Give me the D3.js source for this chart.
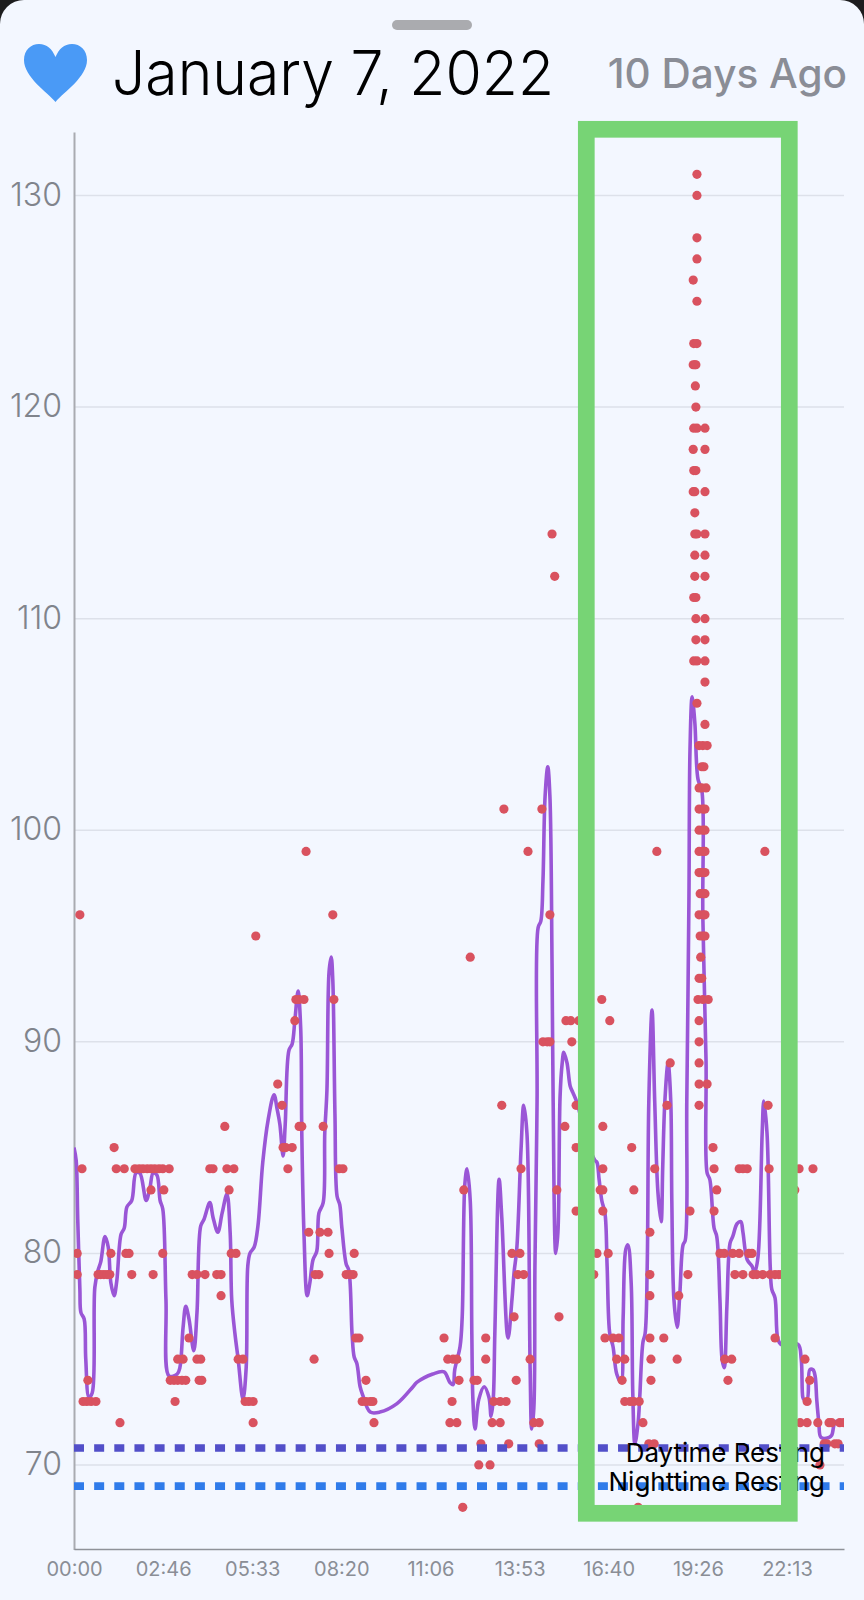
<!DOCTYPE html>
<html><head><meta charset="utf-8">
<script src="https://cdn.jsdelivr.net/npm/d3@7"></script>
<style>
html,body{margin:0;padding:0;background:#1c1c1e;}
svg{display:block;}
text{font-family:Inter,"Noto Sans",sans-serif;}
</style></head><body><div id="chart"></div>
<script>
const titleText = "January 7, 2022";
const agoText = "10 Days Ago";
const yTicks = [70,80,90,100,110,120,130];
const xTickMinutes = d3.range(0,9).map(i => i*10000/60);
const xTickLabels = ["00:00","02:46","05:33","08:20","11:06","13:53","16:40","19:26","22:13"];
const daytimeResting = 70.8;
const nighttimeResting = 69.0;
const restingLabels = ["Daytime Resting","Nighttime Resting"];

const sampleBpm = [131,130,128,127,126,125,123,122,121,120,119,118,117,116,115,114,113,112,111,110,109,108,107,106,105,104,103,102,101,100,99,98,97,96,95,94,93,92,91,90,89,88,87,86,85,84,83,82,81,80,79,78,77,76,75,74,73,72,71,70,68];
const sampleMinutes = [
[1165],[1165],[1165],[1165],[1158],[1165],[1159,1165],[1158,1161,1163],[1162],[1163],
[1159,1165,1180],[1158,1180],[1159,1163],[1158,1161,1180],[1161],[894,1161,1165,1180],[1161,1180],[899,1161,1180],[1159,1163],[1163,1180],
[1163,1180],[1159,1165,1180],[1180],[1165],[1180],[1169,1176,1184],[1174,1178],[1169,1174,1182],[804,875,1169,1176,1180],[1169,1176,1180],
[434,849,1090,1169,1176,1180,1292],[1169,1174,1180],[1171,1176,1180],[11,484,890,1169,1176,1180],[340,1171,1176,1180],[741,1172],[1169,1174],
[415,421,430,486,987,1167,1176,1186],[413,920,929,944,1002,1169],[877,885,890,931,1169],[1115,1169],[381,1169,1184],
[389,800,939,1109,1169,1298],[282,421,426,466,918,989],[75,391,396,408,939,1043,1195],
[15,79,94,114,122,129,137,144,151,159,166,178,254,260,286,299,400,496,503,836,989,1086,1197,1244,1251,1259,1300,1356,1382],
[144,168,290,729,903,984,989,1047,1202,1348],[939,989,1152,1197],[439,460,475,1077],
[6,69,97,103,166,294,303,477,524,819,834,978,999,1208,1216,1232,1244,1262,1268],
[6,45,50,56,62,67,108,148,221,230,245,267,275,451,458,509,516,522,830,841,972,1077,1148,1236,1251,1270,1277,1288,1302,1311,1318,1324],
[275,1077,1131],[823,907],[215,527,533,692,770,993,1008,1019,1077,1103,1311],
[194,204,230,237,307,316,449,699,709,716,770,853,1015,1030,1079,1128,1217,1230,1367],
[26,180,187,194,202,209,234,239,546,720,748,754,827,1025,1079,1223,1376],
[17,24,32,41,189,320,327,335,539,546,554,559,707,785,797,808,1030,1040,1047,1057,1371],
[86,335,561,703,716,782,797,860,870,1064,1358,1371,1391,1412,1417,1432,1440],
[761,813,870,1075,1085,1403,1408,1423,1429],[757,778,1395],[727,1055]
];

const lineMinutes = [0,4,7,11,13,19,22,28,34,39,45,50,58,64,69,75,80,88,94,99,108,116,123,135,142,148,155,161,166,172,178,193,198,204,209,215,224,230,237,243,254,260,269,277,286,292,295,301,307,316,322,325,329,337,344,353,363,374,380,385,391,395,402,408,413,419,424,426,430,436,441,447,454,458,466,469,473,477,481,484,488,492,497,501,509,514,520,524,529,535,540,554,572,604,634,641,671,692,703,709,712,722,726,731,735,741,744,746,750,757,767,776,780,784,787,795,800,810,812,819,823,828,836,841,847,853,856,860,862,866,868,873,877,881,886,890,894,896,901,905,909,913,916,922,928,933,941,956,974,978,982,987,993,997,1002,1008,1015,1023,1027,1032,1036,1042,1045,1049,1055,1058,1064,1068,1072,1075,1081,1086,1092,1098,1101,1105,1111,1116,1118,1122,1128,1133,1139,1143,1146,1150,1152,1156,1161,1167,1174,1176,1182,1184,1189,1197,1202,1208,1212,1216,1221,1227,1232,1240,1247,1251,1259,1268,1273,1279,1287,1290,1296,1302,1305,1311,1316,1322,1354,1360,1363,1365,1371,1376,1382,1386,1389,1393,1397,1412,1417,1423,1431,1440];
const lineBpm = [85.0,84.4,81.6,78.3,77.2,76.9,75.0,73.2,73.4,78.4,79.2,79.6,80.8,80.3,78.6,78.0,78.7,80.9,81.2,82.2,82.5,83.8,83.8,82.5,83.1,83.8,83.7,82.5,82.1,77.8,74.2,74.3,74.6,76.5,77.5,76.9,75.4,77.2,81.3,81.6,82.4,81.7,81.0,81.9,82.8,81.0,77.8,76.2,75.0,73.1,74.6,79.4,80.0,80.3,81.3,84.3,86.3,87.5,86.8,86.1,84.6,86.1,89.6,89.9,91.0,92.4,90.6,85.7,81.0,78.0,78.6,79.7,80.1,81.9,82.4,85.7,87.7,93.3,94.0,92.9,86.6,82.7,82.3,81.2,79.5,79.2,76.2,75.1,74.8,73.7,73.3,72.5,72.5,72.9,73.7,73.9,74.3,74.4,73.9,73.8,74.5,75.6,77.0,83.3,84.0,82.5,76.2,73.1,71.7,73.1,73.7,73.2,72.3,73.1,76.2,83.5,81.7,76.2,76.0,77.8,79.1,80.2,84.9,87.0,85.7,74.6,71.7,72.7,79.4,87.2,95.4,95.7,97.6,101.6,103.0,101.6,93.7,87.4,80.0,81.0,87.4,89.0,89.5,89.0,87.9,87.6,87.1,85.6,84.4,84.3,83.5,82.5,81.9,79.4,76.2,75.6,74.3,73.9,77.0,80.2,80.4,78.6,73.4,71.0,72.0,73.2,75.8,76.2,79.4,87.2,91.5,87.2,82.9,81.5,84.1,87.2,89.0,87.2,82.5,77.8,76.5,78.1,80.4,80.6,87.2,96.7,103.8,106.3,105.1,102.4,101.9,95.9,89.1,83.8,83.5,81.2,80.8,77.8,75.0,74.6,77.5,80.5,80.8,81.4,81.5,81.0,79.7,79.4,79.1,79.8,85.7,87.2,85.7,79.4,78.3,77.9,76.0,75.7,75.7,75.0,73.2,73.1,73.1,74.5,74.5,74.2,73.1,72.0,71.3,71.3,71.4,72.0,72.1,72.1];

const W = 864, H = 1600;
const x = d3.scaleLinear().domain([0,1440]).range([74,844]);
const y = d3.scaleLinear().domain([66,133]).range([1549.6,132]);

const svg = d3.select("#chart").append("svg").attr("width",W).attr("height",H).attr("viewBox",`0 0 ${W} ${H}`);
const R = 24;
svg.append("path").attr("fill","#f3f7ff")
  .attr("d",`M0,${H}V${R}A${R},${R} 0 0 1 ${R},0H${W-R}A${R},${R} 0 0 1 ${W},${R}V${H}Z`);
svg.append("rect").attr("x",392).attr("y",20).attr("width",80).attr("height",10).attr("rx",5).attr("fill","#aaabaf");

svg.append("path").attr("fill","#4a9af6")
  .attr("d","M55.5,102 C47,92 24,77 24,60 C24,50 31,44 39,44 C47,44 52,49 55.5,57 C59,49 64,44 72,44 C80,44 87,50 87,60 C87,77 64,92 55.5,102 Z");
svg.append("text").attr("x",112).attr("y",95).attr("font-size",62).attr("font-weight",350).attr("fill","#000").attr("textLength",442).attr("lengthAdjust","spacingAndGlyphs").text(titleText);
svg.append("text").attr("x",847).attr("y",88).attr("text-anchor","end").attr("font-size",40.5).attr("font-weight",500).attr("fill","#8a8d96").text(agoText);

// grid
svg.append("g").selectAll("line").data(yTicks).join("line")
  .attr("x1",74).attr("x2",844).attr("y1",d=>y(d)).attr("y2",d=>y(d))
  .attr("stroke","#dde1ea").attr("stroke-width",1.5);

// axes
const yAxis = svg.append("g").attr("transform","translate(74,0)")
  .call(d3.axisLeft(y).tickValues(yTicks).tickSize(0).tickPadding(12));
yAxis.select(".domain").attr("stroke","#a9abb1").attr("stroke-width",2);
yAxis.selectAll("text").attr("font-size",32).attr("font-weight",300).attr("fill","#80848c").attr("font-family","Inter").attr("dy","0.3em");
const xAxis = svg.append("g").attr("transform","translate(0,1549)")
  .call(d3.axisBottom(x).tickValues(xTickMinutes).tickFormat((d,i)=>xTickLabels[i]).tickSize(0).tickPadding(13));
xAxis.select(".domain").attr("stroke","#8f9299").attr("stroke-width",1.5);
xAxis.selectAll("text").attr("font-size",20).attr("fill","#8a8e96").attr("font-family","Inter");

svg.append("defs").append("clipPath").attr("id","plot").append("rect")
  .attr("x",74).attr("y",120).attr("width",770).attr("height",1430);
const plot = svg.append("g").attr("clip-path","url(#plot)");

const lineGen = d3.line().x(d=>x(d[0])).y(d=>y(d[1])).curve(d3.curveCatmullRom.alpha(0.5));
plot.append("path").datum(lineMinutes.map((m,i)=>[m,lineBpm[i]]))
  .attr("d",lineGen).attr("fill","none").attr("stroke","#9a56d6").attr("stroke-width",3.6);

const samples = sampleBpm.flatMap((b,i)=>sampleMinutes[i].map(m=>[m,b]));
plot.append("g").selectAll("circle").data(samples).join("circle")
  .attr("cx",d=>x(d[0])).attr("cy",d=>y(d[1])).attr("r",4.6).attr("fill","#d9525f");

[[daytimeResting,"#524fc9"],[nighttimeResting,"#2f7bea"]].forEach(([v,c])=>{
  plot.append("line").attr("x1",74).attr("x2",844).attr("y1",y(v)).attr("y2",y(v))
    .attr("stroke",c).attr("stroke-width",7.6).attr("stroke-dasharray","10 10.15");
});

svg.append("text").attr("x",825).attr("y",1462).attr("text-anchor","end").attr("font-size",26).attr("fill","#000").text(restingLabels[0]);
svg.append("text").attr("x",825).attr("y",1491).attr("text-anchor","end").attr("font-size",26).attr("fill","#000").text(restingLabels[1]);

// highlight box
svg.append("rect").attr("x",586.3).attr("y",129.3).attr("width",203).attr("height",1384)
  .attr("fill","none").attr("stroke","#77d475").attr("stroke-width",16.7);
</script></body></html>
